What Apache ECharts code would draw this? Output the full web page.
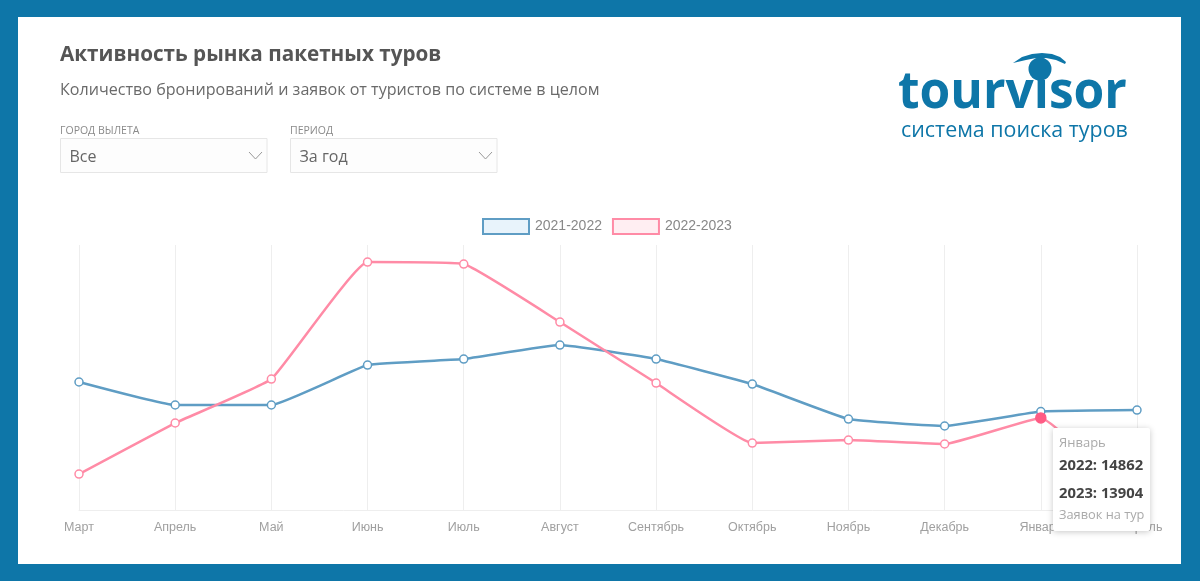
<!DOCTYPE html>
<html>
<head>
<meta charset="utf-8">
<style>
html, body { margin: 0; padding: 0; background: #0e76a8; }
#chart { width: 1200px; height: 581px; }
</style>
<script src="https://cdn.jsdelivr.net/npm/echarts@6/dist/echarts.min.js"></script>
</head>
<body>
<div id="chart"></div>
<script>
var months = ['Март', 'Апрель', 'Май', 'Июнь', 'Июль', 'Август', 'Сентябрь', 'Октябрь', 'Ноябрь', 'Декабрь', 'Январь', 'Февраль'];
var values2122 = [19320, 15850, 15850, 21880, 22790, 24900, 22790, 19010, 13730, 12680, 14862, 15090];
var values2223 = [5430, 13130, 19770, 37420, 37120, 28370, 19160, 10110, 10560, 9960, 13904, 800];
var seriesNames = ['2021-2022', '2022-2023'];
var tipYears = ['2022', '2023'];
var tipIndex = 10;

var BLUE = '#5f9dc4';
var PINK = '#ff8ba6';
var FRAME = '#0e76a8';
var LABEL_FONT = '"Open Sans", "Noto Sans", sans-serif';

function text(x, y, str, font, fill) {
    return { type: 'text', x: x, y: y, style: { text: str, font: font, fill: fill, textVerticalAlign: 'middle' } };
}

// выпадающий список: подпись, рамка, значение, стрелка
function selectBox(x, label, value) {
    return [
        text(x, 131, label, '10.5px ' + LABEL_FONT, '#8a8a8a'),
        { type: 'rect', shape: { x: x + 0.5, y: 138.5, width: 206.5, height: 34 }, style: { fill: '#fdfdfd', stroke: '#e6e6e6', lineWidth: 1 } },
        text(x + 9.5, 157, value, '16px ' + LABEL_FONT, '#666666'),
        { type: 'polyline', shape: { points: [[x + 189, 152], [x + 195.5, 159], [x + 202, 152]] }, style: { fill: null, stroke: '#999999', lineWidth: 1 } }
    ];
}

var logoText = text(898, 93, 'tourvisor', 'bold 52px ' + LABEL_FONT, FRAME);
logoText.scaleX = 0.955;

var decor = [
    { type: 'rect', z: -10, shape: { x: 18, y: 17, width: 1163, height: 547 }, style: { fill: '#ffffff' } },
    text(60, 55, 'Активность рынка пакетных туров', 'bold 20.7px ' + LABEL_FONT, '#555555'),
    text(60, 90, 'Количество бронирований и заявок от туристов по системе в целом', '16.1px ' + LABEL_FONT, '#6a6a6a'),
    logoText,
    text(901, 131, 'система поиска туров', '21.4px ' + LABEL_FONT, FRAME),
    { type: 'circle', shape: { cx: 1040, cy: 69, r: 11.5 }, style: { fill: FRAME } },
    { type: 'polygon', shape: { points: [[1013, 63], [1022, 57], [1032, 54], [1042, 53], [1052, 54], [1060, 57], [1066, 62], [1065, 64], [1056, 60], [1046, 58], [1036, 58], [1026, 60]] }, style: { fill: FRAME } }
].concat(selectBox(60, 'ГОРОД ВЫЛЕТА', 'Все'), selectBox(290, 'ПЕРИОД', 'За год'));

function lineData(values, color) {
    return values.map(function (v, i) {
        if (i === tipIndex && color === PINK) {
            return { value: v, symbolSize: 10, itemStyle: { color: '#ff5c85', borderColor: '#ff5c85' } };
        }
        return v;
    });
}

function lineSeries(name, values, color) {
    return {
        name: name,
        type: 'line',
        smooth: 0.1,
        data: lineData(values, color),
        symbol: 'circle',
        symbolSize: 8,
        showAllSymbol: true,
        lineStyle: { color: color, width: 2.5 },
        itemStyle: { color: '#ffffff', borderColor: color, borderWidth: 1.5 },
        emphasis: { scale: false, disabled: true }
    };
}

var myChart = echarts.init(document.getElementById('chart'));
var option = {
    animation: false,
    backgroundColor: FRAME,
    textStyle: { fontFamily: 'Liberation Sans' },
    graphic: { elements: decor },
    legend: {
        left: 477,
        top: 213,
        itemWidth: 46,
        itemHeight: 15,
        itemGap: 10,
        textStyle: { color: '#888888', fontSize: 14, fontFamily: 'Liberation Sans', padding: [0, 0, 0, 1] },
        selectedMode: false,
        data: [
            { name: seriesNames[0], icon: 'rect', itemStyle: { color: '#e8f3fb', borderColor: BLUE, borderWidth: 2 }, lineStyle: { opacity: 0 } },
            { name: seriesNames[1], icon: 'rect', itemStyle: { color: '#ffeef2', borderColor: PINK, borderWidth: 2 }, lineStyle: { opacity: 0 } }
        ]
    },
    grid: { left: 79, right: 63, top: 245, bottom: 71 },
    xAxis: {
        type: 'category',
        boundaryGap: false,
        data: months,
        axisTick: { show: false },
        axisLine: { lineStyle: { color: '#eeeeee', width: 1 } },
        axisLabel: { interval: 0, color: '#a0a0a0', fontSize: 12.5, margin: 11, fontFamily: 'Liberation Sans' },
        splitLine: { show: true, lineStyle: { color: '#eeeeee', width: 1 } }
    },
    yAxis: { type: 'value', min: 0, max: 40000, show: false, splitLine: { show: false } },
    tooltip: {
        trigger: 'axis',
        axisPointer: { type: 'none' },
        alwaysShowContent: true,
        transitionDuration: 0,
        confine: false,
        position: [1053, 428],
        padding: 0,
        borderWidth: 0,
        backgroundColor: '#ffffff',
        extraCssText: 'box-shadow:0 1px 6px rgba(0,0,0,0.22);border-radius:2px;width:97px;height:103px;box-sizing:border-box;padding:6px 6px 0 6px;',
        formatter: function (params) {
            var head = '<div style="font:13px/16px ' + "'Open Sans'" + ';color:#aaaaaa;">' + params[0].name + '</div>';
            var rows = params.map(function (p, i) {
                return '<div style="font:bold 14.8px/28px ' + "'Open Sans'" + ';color:#444444;white-space:nowrap;">' + tipYears[i] + ': ' + (p.value.value || p.value) + '</div>';
            }).join('');
            return head + rows + '<div style="font:12.8px/16px ' + "'Open Sans'" + ';color:#aaaaaa;white-space:nowrap;">Заявок на тур</div>';
        }
    },
    series: [
        lineSeries(seriesNames[0], values2122, BLUE),
        lineSeries(seriesNames[1], values2223, PINK)
    ]
};
myChart.setOption(option);
myChart.dispatchAction({ type: 'showTip', seriesIndex: 0, dataIndex: tipIndex });
</script>
</body>
</html>
